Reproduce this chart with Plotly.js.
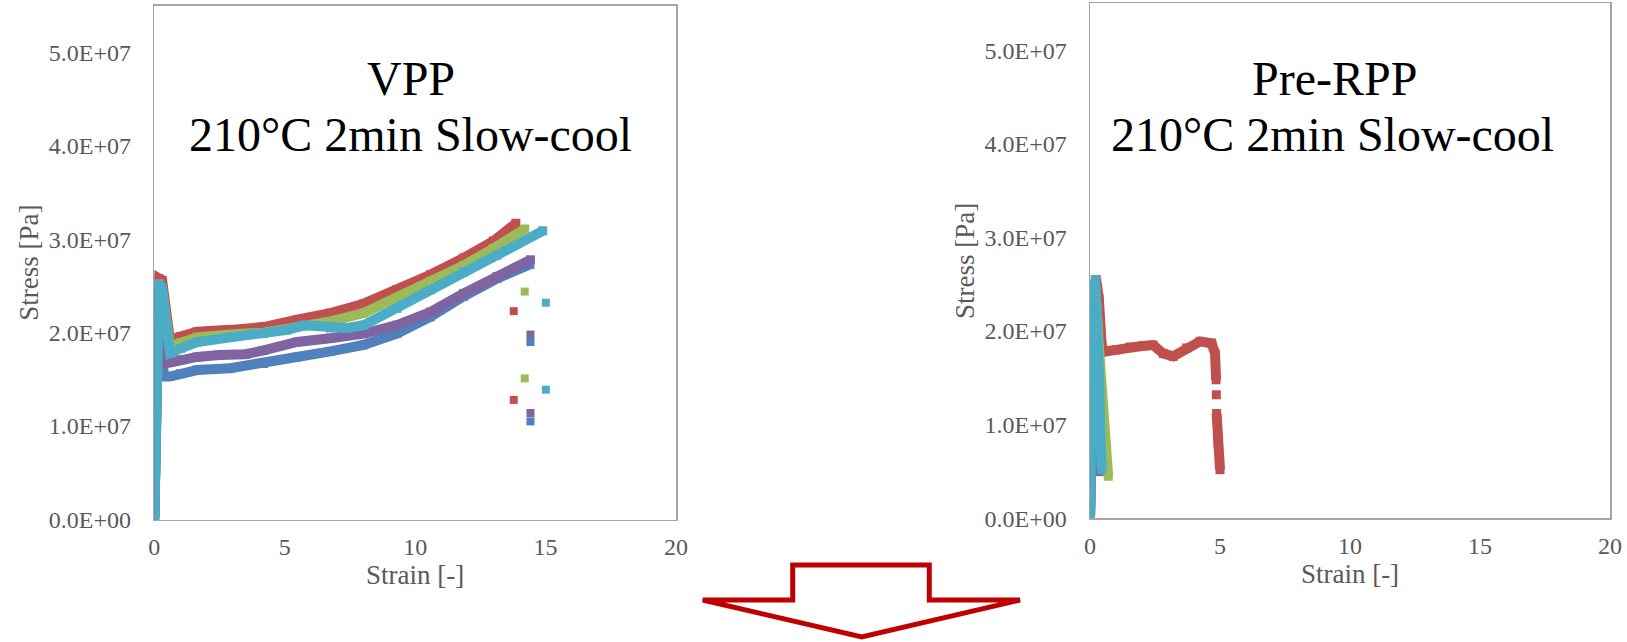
<!DOCTYPE html>
<html>
<head>
<meta charset="utf-8">
<script src="https://cdn.plot.ly/plotly-3.0.1.min.js"></script>
<style>
html,body{margin:0;padding:0;background:#fff;}
#chart{width:1627px;height:642px;}
</style>
</head>
<body>
<div id="chart"></div>
<script>
// ---------- VPP (left panel) ----------
const vppBlueX   = [0, 0.04, 0.09, 0.16, 0.26, 0.36, 0.6, 1.0, 1.64, 2.91, 4.19, 5.47, 6.75, 8.03, 9.3, 10.58, 11.86, 13.14, 14.4];
const vppBlueY   = [0, 1.1e7, 2.0e7, 2.45e7, 2.2e7, 1.53e7, 1.53e7, 1.56e7, 1.6e7, 1.62e7, 1.67e7, 1.74e7, 1.8e7, 1.87e7, 1.99e7, 2.17e7, 2.39e7, 2.58e7, 2.73e7];
const vppRedX    = [0, 0.05, 0.1, 0.18, 0.3, 0.42, 0.6, 1.0, 1.64, 2.91, 4.19, 5.47, 6.75, 8.03, 9.3, 10.58, 11.86, 13.0, 13.86];
const vppRedY    = [0, 1.2e7, 2.2e7, 2.58e7, 2.56e7, 2.2e7, 1.92e7, 1.96e7, 2.01e7, 2.03e7, 2.06e7, 2.14e7, 2.21e7, 2.31e7, 2.46e7, 2.62e7, 2.8e7, 2.98e7, 3.17e7];
const vppGreenX  = [0, 0.05, 0.1, 0.18, 0.3, 0.42, 0.6, 1.0, 1.64, 2.91, 4.19, 5.47, 6.75, 8.03, 9.3, 10.58, 11.86, 13.0, 14.2];
const vppGreenY  = [0, 1.1e7, 2.1e7, 2.52e7, 2.45e7, 2.1e7, 1.85e7, 1.89e7, 1.95e7, 1.98e7, 2.0e7, 2.06e7, 2.12e7, 2.21e7, 2.37e7, 2.55e7, 2.72e7, 2.9e7, 3.11e7];
const vppPurpleX = [0, 0.04, 0.09, 0.16, 0.26, 0.36, 0.6, 1.0, 1.64, 2.5, 3.5, 4.19, 5.47, 6.75, 8.03, 9.3, 10.58, 11.86, 13.14, 14.42];
const vppPurpleY = [0, 1.0e7, 2.0e7, 2.45e7, 2.2e7, 1.67e7, 1.68e7, 1.71e7, 1.74e7, 1.76e7, 1.77e7, 1.81e7, 1.9e7, 1.94e7, 1.99e7, 2.08e7, 2.22e7, 2.42e7, 2.6e7, 2.78e7];
const vppCyanX   = [0, 0.05, 0.1, 0.18, 0.3, 0.42, 0.6, 1.0, 1.64, 2.91, 4.19, 5.1, 5.74, 6.75, 7.4, 8.03, 9.3, 10.58, 11.86, 13.14, 14.89];
const vppCyanY   = [0, 1.0e7, 2.1e7, 2.52e7, 2.48e7, 2.1e7, 1.78e7, 1.83e7, 1.9e7, 1.95e7, 1.99e7, 2.03e7, 2.08e7, 2.05e7, 2.05e7, 2.08e7, 2.26e7, 2.46e7, 2.65e7, 2.83e7, 3.09e7];

// isolated points after fracture (VPP)
const vppBlueBreakX   = [14.42, 14.42];
const vppBlueBreakY   = [1.9e7, 1.05e7];
const vppRedBreakX    = [13.78, 13.78];
const vppRedBreakY    = [2.23e7, 1.28e7];
const vppGreenBreakX  = [14.2, 14.2];
const vppGreenBreakY  = [2.44e7, 1.51e7];
const vppPurpleBreakX = [14.42, 14.42];
const vppPurpleBreakY = [1.98e7, 1.14e7];
const vppCyanBreakX   = [15.01, 15.01];
const vppCyanBreakY   = [2.32e7, 1.39e7];

// ---------- Pre-RPP (right panel) ----------
const rppBlueX   = [0, 0.05, 0.12, 0.2, 0.28, 0.33];
const rppBlueY   = [0, 1.2e7, 2.2e7, 2.5e7, 1.5e7, 0.5e7];
const rppRedX    = [0, 0.06, 0.14, 0.24, 0.34, 0.45, 0.55, 1.0, 1.54, 2.0, 2.43, 2.82, 3.2, 3.72, 4.23, 4.68, 4.81, 4.85, null, 4.86, null, 4.87, 4.93, 5.0];
const rppRedY    = [0, 1.2e7, 2.2e7, 2.55e7, 2.35e7, 1.85e7, 1.78e7, 1.8e7, 1.83e7, 1.84e7, 1.85e7, 1.76e7, 1.73e7, 1.82e7, 1.89e7, 1.87e7, 1.76e7, 1.48e7, null, 1.32e7, null, 1.12e7, 0.8e7, 0.52e7];
const rppGreenX  = [0, 0.05, 0.12, 0.2, 0.35, 0.5, 0.62, 0.7];
const rppGreenY  = [0, 1.2e7, 2.2e7, 2.5e7, 1.8e7, 1.1e7, 0.7e7, 0.45e7];
const rppPurpleX = [0, 0.05, 0.12, 0.2, 0.26, 0.3, 0.33];
const rppPurpleY = [0, 1.2e7, 2.2e7, 2.45e7, 1.5e7, 0.9e7, 0.5e7];
const rppCyanX   = [0, 0.02, 0.06, 0.12, 0.2, 0.28, 0.35, 0.4, 0.45];
const rppCyanY   = [0, 0.8e7, 1.6e7, 2.3e7, 2.55e7, 2.2e7, 1.5e7, 0.9e7, 0.52e7];

// ---------- axes / text ----------
const xTickVals = [0, 5, 10, 15, 20];
const xTickText = ['0', '5', '10', '15', '20'];
const yTickVals = [0, 1e7, 2e7, 3e7, 4e7, 5e7];
const yTickText = ['0.0E+00', '1.0E+07', '2.0E+07', '3.0E+07', '4.0E+07', '5.0E+07'];
const xTitle = 'Strain [-]';
const yTitle = 'Stress [Pa]';
const leftTitle1 = 'VPP';
const rightTitle1 = 'Pre-RPP';
const panelTitle2 = '210°C 2min Slow-cool';

const colors = {blue:'#4F81BD', red:'#C0504D', green:'#9BBB59', purple:'#8064A2', cyan:'#4BACC6'};
const FONT = 'Liberation Serif, Times New Roman, serif';
const LW = 10;

function curve(x, y, c, xa, ya) {
  return {x:x, y:y, xaxis:xa, yaxis:ya, type:'scatter', mode:'lines+markers',
    line:{color:c, width:LW}, marker:{symbol:'square', size:9, color:c},
    connectgaps:false, hoverinfo:'skip', showlegend:false};
}
function pts(x, y, c, xa, ya) {
  return {x:x, y:y, xaxis:xa, yaxis:ya, type:'scatter', mode:'markers',
    marker:{symbol:'square', size:8, color:c}, hoverinfo:'skip', showlegend:false};
}

const data = [
  curve(vppBlueX, vppBlueY, colors.blue, 'x', 'y'),
  curve(vppRedX, vppRedY, colors.red, 'x', 'y'),
  curve(vppGreenX, vppGreenY, colors.green, 'x', 'y'),
  curve(vppPurpleX, vppPurpleY, colors.purple, 'x', 'y'),
  curve(vppCyanX, vppCyanY, colors.cyan, 'x', 'y'),
  pts(vppBlueBreakX, vppBlueBreakY, colors.blue, 'x', 'y'),
  pts(vppRedBreakX, vppRedBreakY, colors.red, 'x', 'y'),
  pts(vppGreenBreakX, vppGreenBreakY, colors.green, 'x', 'y'),
  pts(vppPurpleBreakX, vppPurpleBreakY, colors.purple, 'x', 'y'),
  pts(vppCyanBreakX, vppCyanBreakY, colors.cyan, 'x', 'y'),
  curve(rppBlueX, rppBlueY, colors.blue, 'x2', 'y2'),
  curve(rppRedX, rppRedY, colors.red, 'x2', 'y2'),
  curve(rppGreenX, rppGreenY, colors.green, 'x2', 'y2'),
  curve(rppPurpleX, rppPurpleY, colors.purple, 'x2', 'y2'),
  curve(rppCyanX, rppCyanY, colors.cyan, 'x2', 'y2')
];

const W = 1627, H = 642;
function xAxis(domain, anchor) {
  return {domain:domain, anchor:anchor, range:[0, 20], tickvals:xTickVals, ticktext:xTickText,
    showline:true, mirror:true, linecolor:'#a6a6a6', linewidth:1.5, showgrid:false, zeroline:false,
    ticks:'', ticklabelstandoff:5, automargin:false,
    tickfont:{family:FONT, size:24, color:'#595959'},
    title:{text:xTitle, font:{family:FONT, size:27, color:'#595959'}, standoff:2}};
}
function yAxis(domain, anchor) {
  return {domain:domain, anchor:anchor, range:[0, 5.5e7], tickvals:yTickVals, ticktext:yTickText,
    showline:true, mirror:true, linecolor:'#a6a6a6', linewidth:1.5, showgrid:false, zeroline:false,
    ticks:'', ticklabelstandoff:17, automargin:false,
    tickfont:{family:FONT, size:24, color:'#595959'},
    title:{text:yTitle, font:{family:FONT, size:27, color:'#595959'}, standoff:2}};
}

function ann(text, px, py) {
  return {text:text, xref:'paper', yref:'paper', x:px/W, y:1 - py/H, xanchor:'center', yanchor:'middle',
    showarrow:false, font:{family:FONT, size:48, color:'#000'}};
}

// arrow outline in pixel coordinates converted to paper units
function P(x, y) { return (x/W).toFixed(5) + ',' + (1 - y/H).toFixed(5); }
const arrowPath = 'M' + P(792.7,565) + ' L' + P(929.3,565) + ' L' + P(929.3,600) + ' L' + P(1020,600) +
  ' L' + P(861.7,637) + ' L' + P(702.7,600) + ' L' + P(792.7,600) + ' Z';

const layout = {
  width:W, height:H, margin:{l:0, r:0, t:0, b:0}, paper_bgcolor:'#fff', plot_bgcolor:'#fff',
  showlegend:false,
  xaxis: xAxis([154.3/W, 676/W], 'y'),
  yaxis: yAxis([1 - 519.5/H, 1 - 5.7/H], 'x'),
  xaxis2: xAxis([1090/W, 1610/W], 'y2'),
  yaxis2: yAxis([1 - 518.4/H, 1 - 3.3/H], 'x2'),
  annotations:[
    ann(leftTitle1, 411, 78), ann(panelTitle2, 410, 134),
    ann(rightTitle1, 1334, 79), ann(panelTitle2, 1332, 134)
  ],
  shapes:[{type:'path', xref:'paper', yref:'paper', path:arrowPath,
    line:{color:'#C00000', width:5}, fillcolor:'rgba(0,0,0,0)'}]
};

Plotly.newPlot('chart', data, layout, {staticPlot:true, displayModeBar:false});
</script>
</body>
</html>
